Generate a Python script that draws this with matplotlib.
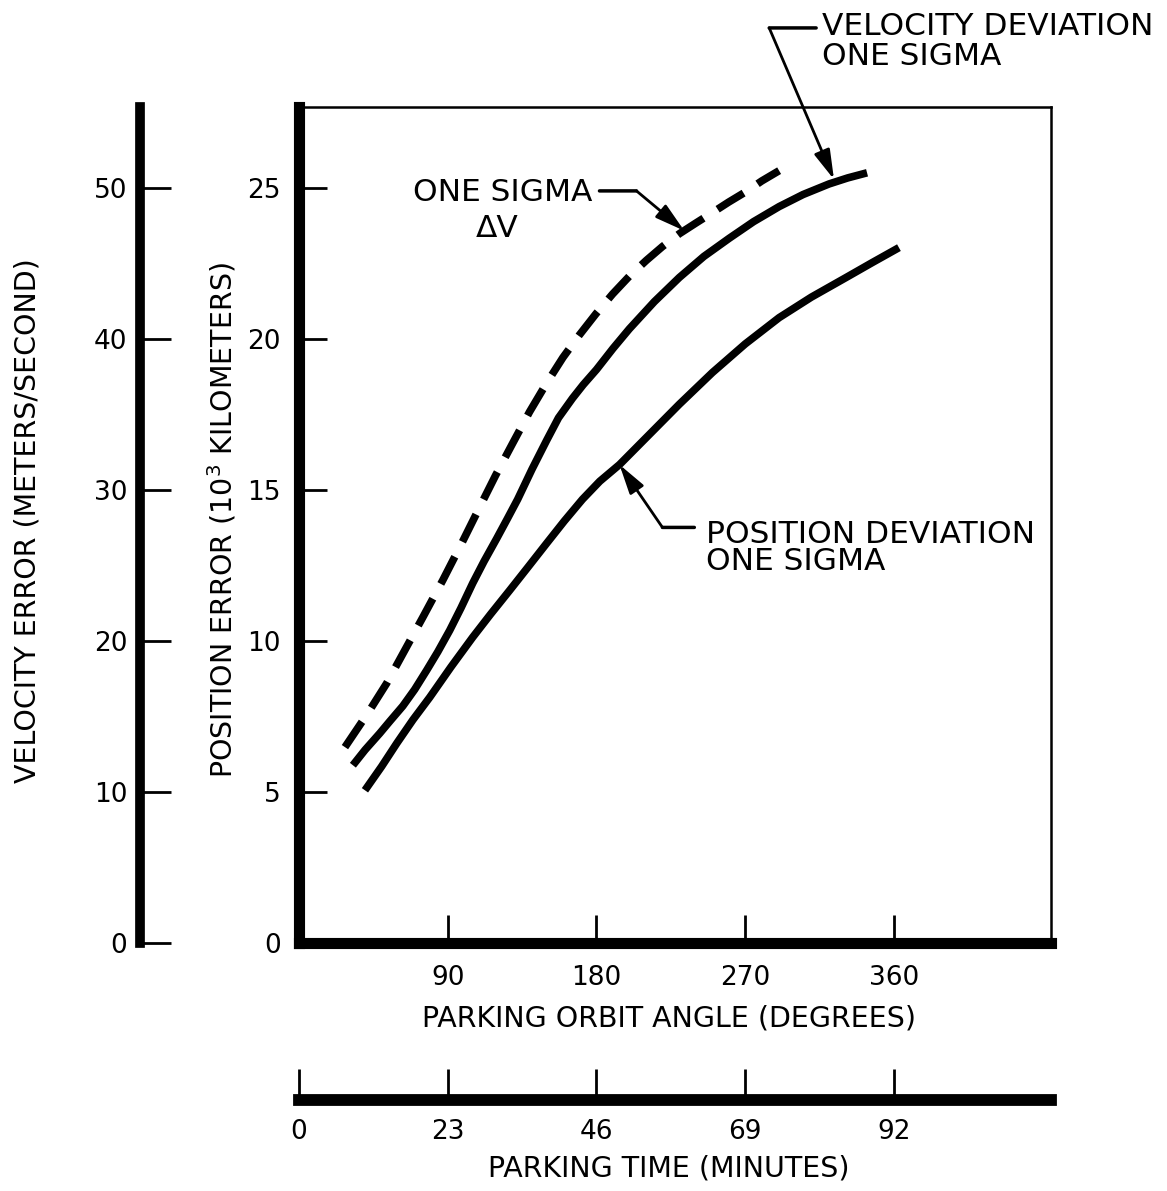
import numpy as np
import matplotlib.pyplot as plt

plt.rcParams['font.family'] = ['DejaVu Sans']

# Data
# orbit angle (deg) vs position error (10^3 km)
angle_dv = [27.8, 41.7, 53.0, 64.0, 74.9, 87.0, 98.5, 109.3, 119.0, 129.3,
            139.5, 149.8, 159.7, 169.7, 179.7, 189.7, 200.0, 210.2, 220.0,
            230.1, 240.0, 250.1, 260.0, 270.6, 280.0, 290.5]
err_dv = [6.49, 7.62, 8.60, 9.70, 10.79, 12.02, 13.25, 14.44, 15.50, 16.56,
          17.60, 18.55, 19.40, 20.15, 20.85, 21.50, 22.10, 22.62, 23.08,
          23.50, 23.85, 24.20, 24.55, 24.90, 25.25, 25.59]

angle_vel = [32.6, 40.0, 48.9, 55.0, 62.8, 70.0, 77.3, 84.0, 91.2, 98.0,
             105.1, 112.0, 119.6, 126.0, 132.3, 141.0, 149.8, 157.0, 165.5,
             172.0, 180.0, 190.0, 199.9, 215.0, 230.1, 245.0, 260.3, 275.0,
             290.5, 305.0, 320.7, 332.0, 343.7]
err_vel = [5.89, 6.40, 6.95, 7.35, 7.85, 8.40, 9.04, 9.65, 10.36, 11.10,
           11.92, 12.65, 13.40, 14.05, 14.70, 15.70, 16.65, 17.40, 18.05,
           18.50, 19.00, 19.70, 20.35, 21.25, 22.05, 22.75, 23.35, 23.90,
           24.40, 24.80, 25.15, 25.35, 25.52]

angle_pos = [39.9, 50.0, 59.2, 69.0, 79.1, 92.0, 105.1, 116.0, 127.4, 138.5,
             149.8, 160.5, 171.5, 182.0, 193.9, 212.0, 230.1, 250.1, 270.0,
             290.5, 310.0, 331.0, 347.0, 363.0]
err_pos = [5.06, 5.85, 6.62, 7.40, 8.14, 9.15, 10.13, 10.90, 11.68, 12.45,
           13.24, 13.98, 14.70, 15.30, 15.85, 16.85, 17.85, 18.90, 19.85,
           20.72, 21.40, 22.05, 22.55, 23.04]

angle_ticks = [90, 180, 270, 360]
pos_ticks = [0, 5, 10, 15, 20, 25]
vel_ticks = [0, 10, 20, 30, 40, 50]
time_ticks = [0, 23, 46, 69, 92]

W, H = 1167, 1191
fig = plt.figure(figsize=(W / 100, H / 100), dpi=100)

left, right = 299 / W, 1051 / W
bottom, top = 1 - 943 / H, 1 - 107 / H
ax = fig.add_axes([left, bottom, right - left, top - bottom])

xmax = 455
ymax = 27.7
ax.set_xlim(0, xmax)
ax.set_ylim(0, ymax)

ax.plot(angle_vel, err_vel, color='black', lw=5.5, solid_capstyle='butt',
        solid_joinstyle='round')
ax.plot(angle_pos, err_pos, color='black', lw=5.5, solid_capstyle='butt',
        solid_joinstyle='round')
dv_line, = ax.plot(angle_dv, err_dv, color='black', lw=5.5, dash_capstyle='butt')
dv_line.set_dashes((4.0, 2.2))

for s in ['left', 'bottom']:
    ax.spines[s].set_linewidth(8)
for s in ['top', 'right']:
    ax.spines[s].set_linewidth(1.8)

ax.set_xticks(angle_ticks)
ax.set_yticks(pos_ticks)
ax.tick_params(axis='x', direction='in', length=20, width=2, pad=16, labelsize=19)
ax.tick_params(axis='y', direction='in', length=20, width=2, pad=13, labelsize=19)

# velocity axis (left)
axv = fig.add_axes([140 / W, bottom, 0.001, top - bottom])
axv.set_ylim(0, ymax * 2)
axv.set_yticks(vel_ticks)
axv.set_xticks([])
for s in ['top', 'right', 'bottom']:
    axv.spines[s].set_visible(False)
axv.spines['left'].set_linewidth(7)
axv.patch.set_visible(False)
axv.tick_params(axis='y', direction='in', length=22, width=2, pad=9, labelsize=19)

# parking time axis (bottom)
axt = fig.add_axes([left, 1 - 1100 / H, right - left, 0.001])
axt.set_xlim(0, xmax * 23 / 90)
axt.set_xticks(time_ticks)
axt.set_yticks([])
for s in ['top', 'right', 'left']:
    axt.spines[s].set_visible(False)
axt.spines['bottom'].set_linewidth(8.5)
axt.patch.set_visible(False)
axt.tick_params(axis='x', direction='in', length=22, width=2, pad=14, labelsize=19)

# axis titles
fig.text(28 / W, 1 - 521 / H, 'VELOCITY ERROR (METERS/SECOND)', rotation=90,
         ha='center', va='center', fontsize=20.5)
fig.text(222 / W, 1 - 520 / H, r'POSITION ERROR (10$^{3}$ KILOMETERS)', rotation=90,
         ha='center', va='center', fontsize=20.5)
fig.text(669 / W, 1 - 1019 / H, 'PARKING ORBIT ANGLE (DEGREES)',
         ha='center', va='center', fontsize=20.5)
fig.text(669 / W, 1 - 1168 / H, 'PARKING TIME (MINUTES)',
         ha='center', va='center', fontsize=20.5)

# callouts
fs = 22.5
head = dict(arrowstyle='-|>,head_length=0.9,head_width=0.25', color='black',
            lw=2, mutation_scale=20, shrinkA=0, shrinkB=0)
plain = dict(arrowstyle='-', color='black', lw=2.5, shrinkA=0, shrinkB=0)

# velocity deviation
ax.text(316.5, 30.1, 'VELOCITY DEVIATION', fontsize=fs, ha='left', va='baseline',
        clip_on=False)
ax.text(316.5, 29.1, 'ONE SIGMA', fontsize=fs, ha='left', va='baseline',
        clip_on=False)
ax.annotate('', xy=(312.9, 30.32), xytext=(284.5, 30.32), arrowprops=plain,
            annotation_clip=False)
ax.annotate('', xy=(323.7, 25.3), xytext=(284.5, 30.32), arrowprops=head,
            annotation_clip=False)

# one sigma delta-V
ax.text(68.9, 24.6, 'ONE SIGMA', fontsize=fs, ha='left', va='baseline')
ax.text(107.0, 23.4, 'ΔV', fontsize=fs, ha='left', va='baseline')
ax.annotate('', xy=(204.2, 24.92), xytext=(181.8, 24.92), arrowprops=plain)
ax.annotate('', xy=(233.1, 23.6), xytext=(204.2, 24.92), arrowprops=head)

# position deviation
ax.text(246.4, 13.27, 'POSITION DEVIATION', fontsize=fs, ha='left', va='baseline')
ax.text(246.4, 12.35, 'ONE SIGMA', fontsize=fs, ha='left', va='baseline')
ax.annotate('', xy=(239.2, 13.77), xytext=(219.9, 13.77), arrowprops=plain)
ax.annotate('', xy=(193.9, 15.85), xytext=(219.9, 13.77), arrowprops=head)

fig.savefig('out.png', dpi=100)
